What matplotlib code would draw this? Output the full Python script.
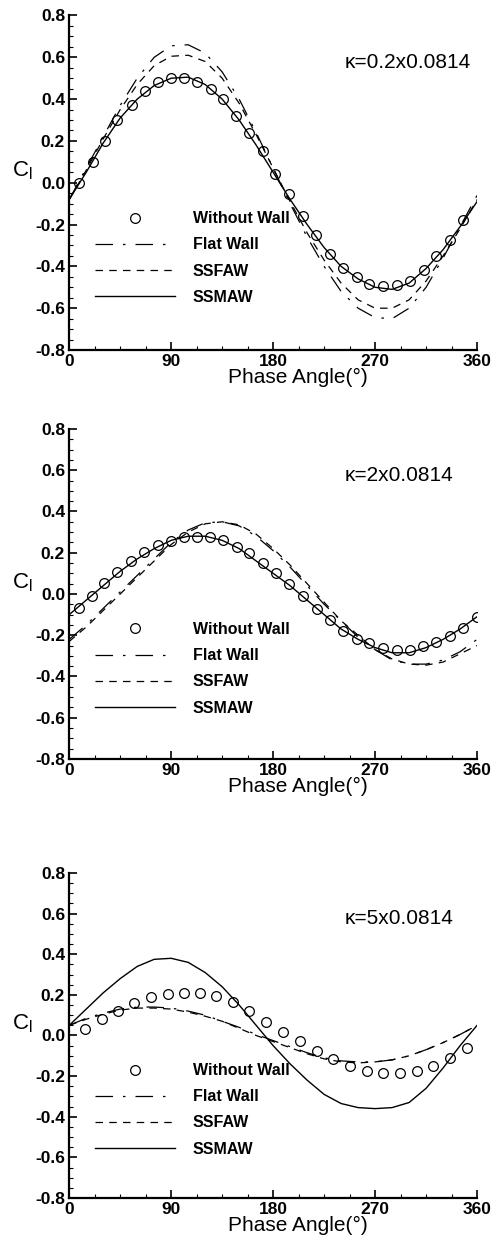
import numpy as np
import matplotlib.pyplot as plt
from matplotlib.ticker import MultipleLocator

plt.rcParams['font.family'] = ['Liberation Sans', 'DejaVu Sans']
plt.rcParams['axes.unicode_minus'] = False
plt.rcParams['mathtext.default'] = 'regular'

# phase angle grid for the computed curves [deg]
phase = [0, 15, 30, 45, 60, 75, 90, 105, 120, 135, 150, 165, 180,
         195, 210, 225, 240, 255, 270, 285, 300, 315, 330, 345, 360]

# ---- panel 1 : kappa = 0.2x0.0814
p1_wo_x = [8.5, 20.6, 31.8, 42.6, 55, 67, 78.5, 89.7, 100.9, 113, 124.7, 135.9, 147, 158.8,
           171, 182, 194.4, 206.5, 218, 230, 242, 254, 265, 277, 289, 301, 313, 324, 336, 347.6]
p1_wo_y = [0.0, 0.10, 0.20, 0.30, 0.37, 0.44, 0.48, 0.50, 0.50, 0.48, 0.45, 0.40, 0.32, 0.24,
           0.15, 0.04, -0.056, -0.16, -0.25, -0.34, -0.41, -0.45, -0.485, -0.495, -0.49, -0.47,
           -0.415, -0.35, -0.275, -0.18]
p1_flat = [-0.08, 0.07, 0.22, 0.37, 0.50, 0.60, 0.655, 0.66, 0.62, 0.53, 0.40, 0.24, 0.07,
           -0.10, -0.26, -0.40, -0.52, -0.60, -0.645, -0.65, -0.60, -0.50, -0.36, -0.21, -0.06]
p1_ssfaw = [-0.08, 0.06, 0.21, 0.35, 0.47, 0.56, 0.605, 0.61, 0.58, 0.50, 0.38, 0.23, 0.07,
            -0.09, -0.24, -0.37, -0.48, -0.56, -0.60, -0.60, -0.56, -0.47, -0.35, -0.22, -0.08]
p1_ssmaw = [-0.08, 0.05, 0.19, 0.31, 0.40, 0.465, 0.50, 0.505, 0.47, 0.40, 0.30, 0.18, 0.05,
            -0.08, -0.20, -0.31, -0.40, -0.46, -0.50, -0.51, -0.48, -0.41, -0.32, -0.21, -0.09]

# ---- panel 2 : kappa = 2x0.0814
p2_wo_x = [8.6, 19.8, 31, 42.5, 54.6, 66.4, 78.2, 89.7, 101, 112.7, 124, 135.7, 148, 159, 171,
           182.6, 194.4, 206, 218.3, 230, 242, 253.7, 265, 276.7, 289, 301, 312, 324, 335.7,
           347.5, 359.6]
p2_wo_y = [-0.068, -0.011, 0.053, 0.107, 0.158, 0.204, 0.236, 0.255, 0.275, 0.278, 0.275, 0.26,
           0.23, 0.197, 0.15, 0.10, 0.05, -0.011, -0.073, -0.125, -0.178, -0.217, -0.24, -0.262,
           -0.273, -0.27, -0.254, -0.233, -0.202, -0.165, -0.112]
p2_flat = [-0.22, -0.15, -0.07, 0.01, 0.09, 0.17, 0.25, 0.31, 0.345, 0.35, 0.33, 0.28, 0.21,
           0.13, 0.04, -0.05, -0.13, -0.21, -0.27, -0.32, -0.34, -0.34, -0.32, -0.28, -0.22]
p2_ssfaw = [-0.23, -0.16, -0.08, 0.00, 0.08, 0.16, 0.24, 0.30, 0.34, 0.35, 0.335, 0.29, 0.22,
            0.14, 0.05, -0.04, -0.13, -0.20, -0.27, -0.315, -0.34, -0.345, -0.33, -0.29, -0.25]
p2_ssmaw = [-0.10, -0.03, 0.04, 0.11, 0.17, 0.22, 0.26, 0.28, 0.28, 0.26, 0.22, 0.16, 0.10,
            0.04, -0.03, -0.10, -0.17, -0.22, -0.26, -0.285, -0.285, -0.26, -0.22, -0.17, -0.11]

# ---- panel 3 : kappa = 5x0.0814
p3_wo_x = [13.9, 29.2, 43.4, 57.5, 72.3, 87, 100.9, 115.6, 129.8, 144.3, 159, 173.8, 188.5,
           203.6, 218.3, 232.8, 247.5, 262.6, 277.3, 292, 306.8, 321.5, 336.3, 351]
p3_wo_y = [0.034, 0.08, 0.121, 0.162, 0.19, 0.206, 0.211, 0.208, 0.195, 0.164, 0.121, 0.067,
           0.018, -0.028, -0.075, -0.118, -0.15, -0.174, -0.187, -0.187, -0.174, -0.149, -0.113,
           -0.064]
p3_flat = [0.05, 0.085, 0.11, 0.13, 0.14, 0.14, 0.135, 0.12, 0.10, 0.07, 0.04, 0.005, -0.025,
           -0.055, -0.085, -0.11, -0.125, -0.13, -0.13, -0.12, -0.10, -0.07, -0.035, 0.005, 0.05]
p3_ssfaw = [0.05, 0.08, 0.105, 0.125, 0.135, 0.135, 0.13, 0.115, 0.095, 0.07, 0.035, 0.0, -0.03,
            -0.06, -0.09, -0.115, -0.13, -0.135, -0.13, -0.12, -0.10, -0.07, -0.035, 0.005, 0.05]
p3_ssmaw = [0.05, 0.13, 0.21, 0.28, 0.34, 0.375, 0.38, 0.36, 0.31, 0.24, 0.15, 0.05, -0.05,
            -0.14, -0.22, -0.29, -0.335, -0.355, -0.36, -0.355, -0.33, -0.26, -0.16, -0.05, 0.05]

kappa_labels = ['\u03ba=0.2x0.0814', '\u03ba=2x0.0814', '\u03ba=5x0.0814']

panels = [
    (p1_wo_x, p1_wo_y, p1_flat, p1_ssfaw, p1_ssmaw),
    (p2_wo_x, p2_wo_y, p2_flat, p2_ssfaw, p2_ssmaw),
    (p3_wo_x, p3_wo_y, p3_flat, p3_ssfaw, p3_ssmaw),
]

# axes boxes [left, bottom, width, height] in figure fraction
boxes = [
    [0.139, 0.7175, 0.819, 0.270],
    [0.139, 0.3874, 0.819, 0.2664],
    [0.139, 0.0331, 0.819, 0.2623],
]

fig = plt.figure(figsize=(4.98, 12.39), dpi=100)

for k, (wx, wy, flat, ssfaw, ssmaw) in enumerate(panels):
    ax = fig.add_axes(boxes[k])
    ax.plot(wx, wy, 'o', ls='none', mfc='none', mec='black', ms=7, mew=0.9, label='Without Wall')
    ax.plot(phase, flat, color='black', lw=0.9, ls=(0, (14, 8, 2, 8)), label='Flat Wall')
    ax.plot(phase, ssfaw, color='black', lw=0.9, ls=(0, (6, 5)), label='SSFAW')
    ax.plot(phase, ssmaw, color='black', lw=1.0, ls='-', label='SSMAW')

    ax.set_xlim(0, 360)
    ax.set_ylim(-0.8, 0.8)
    ax.set_xticks([0, 90, 180, 270, 360])
    ax.set_yticks([0.8, 0.6, 0.4, 0.2, 0.0, -0.2, -0.4, -0.6, -0.8])
    ax.set_yticklabels(['0.8', '0.6', '0.4', '0.2', '0.0', '-0.2', '-0.4', '-0.6', '-0.8'])
    ax.xaxis.set_minor_locator(MultipleLocator(22.5))
    ax.yaxis.set_minor_locator(MultipleLocator(0.05))
    ax.tick_params(which='both', direction='in', top=False, right=False)
    ax.tick_params(which='major', length=6, width=1.2, labelsize=12.5, pad=3)
    ax.tick_params(which='minor', length=3, width=0.8)
    for lab in ax.get_xticklabels() + ax.get_yticklabels():
        lab.set_fontweight('bold')

    ax.spines['top'].set_visible(False)
    ax.spines['right'].set_visible(False)
    ax.spines['left'].set_linewidth(1.6)
    ax.spines['bottom'].set_linewidth(1.6)

    ax.set_xlabel('Phase Angle(\u00b0)', fontsize=15, labelpad=-1)
    ax.xaxis.set_label_coords(0.56, -0.055)
    ax.xaxis.label.set_va('top')
    ax.text(-0.115, 0.535, 'C$_l$', transform=ax.transAxes, fontsize=16,
            ha='center', va='center')
    ax.text(0.676, 0.86, kappa_labels[k], transform=ax.transAxes, fontsize=15,
            ha='left', va='center')

    ax.legend(loc='upper left', bbox_to_anchor=(0.064, 0.415), frameon=False,
              handlelength=5.0, handletextpad=1.1, labelspacing=0.7, borderpad=0,
              borderaxespad=0, numpoints=1, prop={'weight': 'bold', 'size': 11.5})

fig.savefig('out.png', dpi=100)
